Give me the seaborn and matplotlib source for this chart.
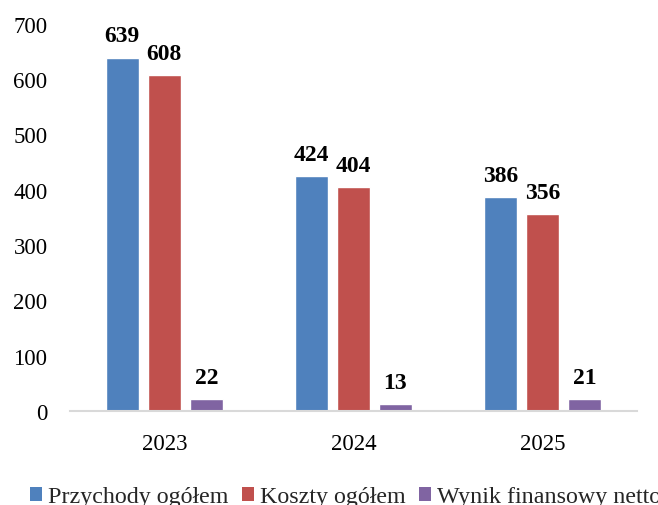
import matplotlib
matplotlib.use("Agg")
import matplotlib.pyplot as plt
import seaborn as sns
import pandas as pd
from matplotlib.patches import Patch

years = ["2023", "2024", "2025"]
series = ["Przychody ogółem", "Koszty ogółem", "Wynik finansowy netto"]
przychody = [639, 424, 386]
koszty = [608, 404, 356]
wynik = [22, 13, 21]
colors = ["#4F81BD", "#C0504D", "#8064A2"]
yticks = [0, 100, 200, 300, 400, 500, 600, 700]

df = pd.DataFrame({
    "rok": years * 3,
    "seria": [s for s in series for _ in years],
    "wartosc": przychody + koszty + wynik,
})

sns.set_theme(style="white")
plt.rcParams["font.family"] = ["Liberation Serif", "DejaVu Serif"]

fig = plt.figure(figsize=(6.58, 5.06), dpi=100)
ax = fig.add_axes([0.106, 0.186, 0.862, 0.765])

sns.barplot(data=df, x="rok", y="wartosc", hue="seria", order=years,
            hue_order=series, palette=colors, width=0.667, gap=0.21,
            saturation=1, ax=ax, legend=False)

for cont in ax.containers:
    ax.bar_label(cont, fmt="%d", padding=8, fontsize=17, fontweight="bold",
                 color="black", clip_on=False)

ax.set_ylim(0, 700)
ax.set_yticks(yticks)
ax.set_xlim(-0.5, 2.5)
ax.set_xlabel("")
ax.set_ylabel("")
ax.tick_params(axis="y", length=0, pad=16, labelsize=16.5)
ax.tick_params(axis="x", length=0, pad=16, labelsize=16.5)
for t in ax.get_yticklabels() + ax.get_xticklabels():
    t.set_color("black")
for side in ["top", "right", "left"]:
    ax.spines[side].set_visible(False)
ax.spines["bottom"].set_color("#D9D9D9")
ax.spines["bottom"].set_linewidth(1.5)

handles = [Patch(facecolor=c, edgecolor="none") for c in colors]
fig.legend(handles, series, loc="center left", bbox_to_anchor=(0.046, 0.016),
           ncol=3, frameon=False, fontsize=17.3, handlelength=0.5,
           handleheight=0.5, handletextpad=0.25, columnspacing=0.55,
           borderaxespad=0, borderpad=0)

fig.savefig("out.png", dpi=100)
